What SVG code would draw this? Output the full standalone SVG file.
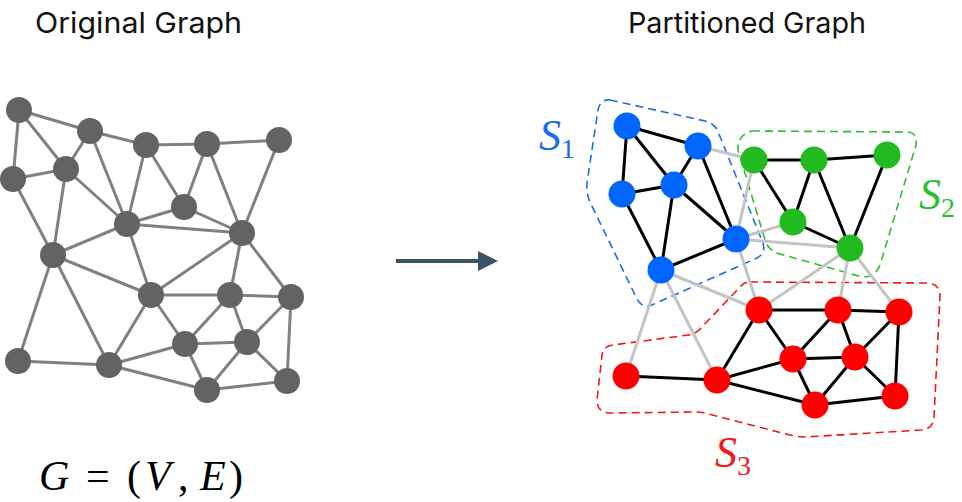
<svg xmlns="http://www.w3.org/2000/svg" width="962" height="502" viewBox="0 0 962 502">
<defs>
<style>
.title{font-family:Inter,"Liberation Sans",sans-serif;font-size:29px;fill:#111}
.math{font-family:"Liberation Serif","DejaVu Serif",serif}
.it{font-style:italic}
.le{stroke:#808080;stroke-width:3;fill:none}
.ln{fill:#636363}
.bk{stroke:#000;stroke-width:3}
.gy{stroke:#c4c4c4;stroke-width:3}
.b{fill:#0066ff}
.g{fill:#22bb22}
.r{fill:#ff0000}
.hull{fill:none;stroke-width:1.6;stroke-dasharray:8 5}
</style>
<marker id="ah" viewBox="0 0 10 10" refX="0" refY="5" markerWidth="5" markerHeight="6" markerUnits="strokeWidth" orient="auto">
<path d="M0,0 L10,5 L0,10 Z" fill="#3a5468"/>
</marker>
</defs>
<rect width="962" height="502" fill="#fff"/>
<text class="title" x="35" y="33" textLength="207" lengthAdjust="spacingAndGlyphs">Original Graph</text>
<text class="title" x="628" y="33" textLength="238" lengthAdjust="spacingAndGlyphs">Partitioned Graph</text>

<g id="left-edges">
<path class="le" d="M19,110L90,131M19,110L66,169M19,110L13,179M90,131L66,169M90,131L127,224M90,131L146,145M13,179L66,169M13,179L53,255M66,169L53,255M66,169L127,224M146,145L127,224M146,145L184,207M146,145L207,144M207,144L184,207M207,144L242,233M207,144L279,140M279,140L242,233M184,207L127,224M184,207L242,233M127,224L242,233M127,224L53,255M127,224L151,295M53,255L151,295M53,255L18,361M53,255L109,365M242,233L151,295M242,233L230,295M242,233L291,297M151,295L230,295M151,295L185,344M151,295L109,365M230,295L291,297M230,295L185,344M230,295L247,342M291,297L247,342M291,297L287,381M185,344L247,342M185,344L207,390M247,342L207,390M247,342L287,381M109,365L185,344M109,365L207,390M18,361L109,365M207,390L287,381"/>
</g>
<g id="left-nodes">
<circle class="ln" cx="19" cy="110" r="13"/><circle class="ln" cx="90" cy="131" r="13"/><circle class="ln" cx="13" cy="179" r="13"/><circle class="ln" cx="66" cy="169" r="13"/><circle class="ln" cx="146" cy="145" r="13"/><circle class="ln" cx="207" cy="144" r="13"/><circle class="ln" cx="279" cy="140" r="13"/><circle class="ln" cx="184" cy="207" r="13"/><circle class="ln" cx="127" cy="224" r="13"/><circle class="ln" cx="242" cy="233" r="13"/><circle class="ln" cx="53" cy="255" r="13"/><circle class="ln" cx="151" cy="295" r="13"/><circle class="ln" cx="230" cy="295" r="13"/><circle class="ln" cx="291" cy="297" r="13"/><circle class="ln" cx="185" cy="344" r="13"/><circle class="ln" cx="247" cy="342" r="13"/><circle class="ln" cx="18" cy="361" r="13"/><circle class="ln" cx="109" cy="365" r="13"/><circle class="ln" cx="207" cy="390" r="13"/><circle class="ln" cx="287" cy="381" r="13"/>
</g>
<text class="math" y="490" font-size="42"><tspan class="it" x="39">G</tspan><tspan x="86">=</tspan><tspan x="127">(</tspan><tspan class="it" x="145">V</tspan><tspan x="178">,</tspan><tspan class="it" x="200">E</tspan><tspan x="229">)</tspan></text>

<g id="arrow">
<line x1="396" y1="261" x2="478" y2="261" stroke="#3a5468" stroke-width="4" marker-end="url(#ah)"/>
</g>

<g id="hulls">
<path class="hull" stroke="#1a6cf0" d="M610,100 L705,121 Q716,124 719,134 L763,243 Q766,253 757,258 L652,305 Q642,309 637,299 L590,202 Q586,193 587,183 L598,110 Q600,99 610,100 Z"/>
<path class="hull" stroke="#2cbf2c" d="M752,131 L908,132 Q918,133 916,145 L880,265 Q875,278 862,277 L780,254 Q770,251 766,243 L738,150 Q737,135 752,131 Z"/>
<path class="hull" stroke="#f01818" d="M750,282 L928,283 Q940,284 940,296 L934,418 Q933,429 921,430 L805,437 Q798,437 790,435 L705,413 Q700,412 695,412 L610,413 Q597,413 597,400 L602,355 Q603,346 613,345 L688,335 Q696,334 701,328 L740,287 Q744,282 750,282 Z"/>
</g>

<g id="right-edges">
<path class="gy" d="M698,146L754,160M754,160L736,239M793,222L736,239M736,239L850,248M736,239L759,310M661,270L759,310M661,270L626,376M661,270L717,380M850,248L759,310M850,248L838,310M850,248L899,312"/>
<path class="bk" d="M627,126L698,146M627,126L674,185M627,126L622,194M698,146L674,185M698,146L736,239M622,194L674,185M622,194L661,270M674,185L661,270M674,185L736,239M736,239L661,270M754,160L793,222M754,160L814,160M814,160L793,222M814,160L850,248M814,160L887,155M887,155L850,248M793,222L850,248M759,310L838,310M759,310L793,359M759,310L717,380M838,310L899,312M838,310L793,359M838,310L855,357M899,312L855,357M899,312L895,396M793,359L855,357M793,359L815,405M855,357L815,405M855,357L895,396M717,380L793,359M717,380L815,405M626,376L717,380M815,405L895,396"/>
</g>
<g id="s1-nodes">
<circle class="b" cx="627" cy="126" r="13.5"/><circle class="b" cx="698" cy="146" r="13.5"/><circle class="b" cx="622" cy="194" r="13.5"/><circle class="b" cx="674" cy="185" r="13.5"/><circle class="b" cx="736" cy="239" r="13.5"/><circle class="b" cx="661" cy="270" r="13.5"/>
</g>
<g id="s2-nodes">
<circle class="g" cx="754" cy="160" r="13.5"/><circle class="g" cx="814" cy="160" r="13.5"/><circle class="g" cx="887" cy="155" r="13.5"/><circle class="g" cx="793" cy="222" r="13.5"/><circle class="g" cx="850" cy="248" r="13.5"/>
</g>
<g id="s3-nodes">
<circle class="r" cx="759" cy="310" r="13.5"/><circle class="r" cx="838" cy="310" r="13.5"/><circle class="r" cx="899" cy="312" r="13.5"/><circle class="r" cx="793" cy="359" r="13.5"/><circle class="r" cx="855" cy="357" r="13.5"/><circle class="r" cx="626" cy="376" r="13.5"/><circle class="r" cx="717" cy="380" r="13.5"/><circle class="r" cx="815" cy="405" r="13.5"/><circle class="r" cx="895" cy="396" r="13.5"/>
</g>
<g id="labels">
<text class="math" x="539" y="150" font-size="44" fill="#1a6cf0"><tspan class="it">S</tspan><tspan font-size="28" dy="8">1</tspan></text>
<text class="math" x="919" y="209" font-size="44" fill="#2cbf2c"><tspan class="it">S</tspan><tspan font-size="28" dy="8">2</tspan></text>
<text class="math" x="715" y="467" font-size="44" fill="#f01818"><tspan class="it">S</tspan><tspan font-size="28" dy="8">3</tspan></text>
</g>
</svg>
